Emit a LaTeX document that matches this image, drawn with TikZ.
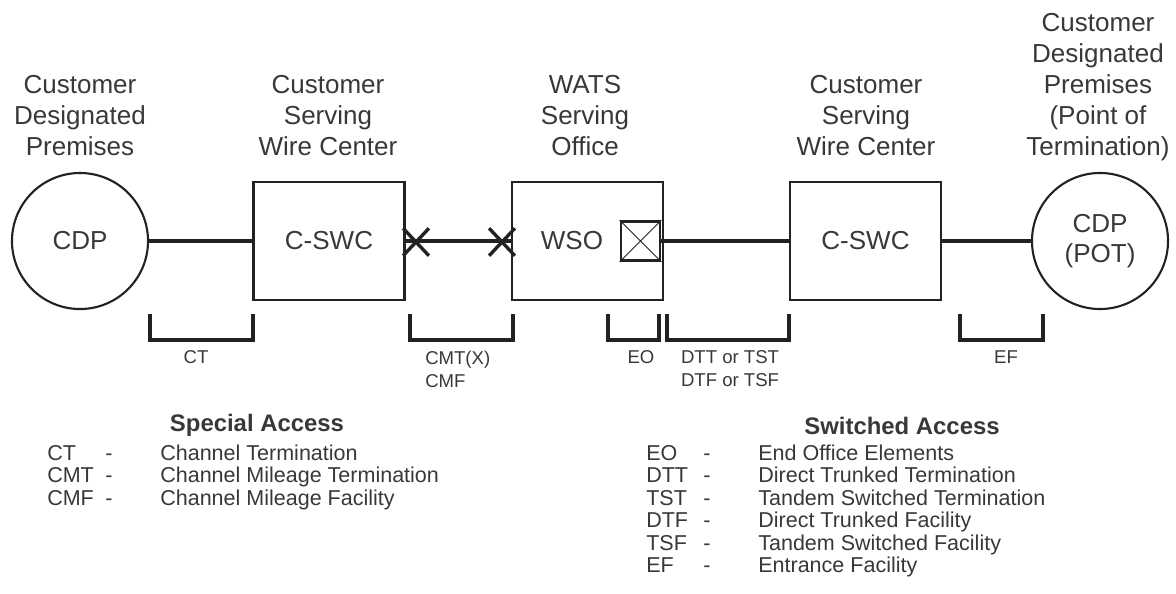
\documentclass[tikz,border=0pt]{standalone}
\usepackage{fontspec}
\setmainfont{Liberation Sans}
\usetikzlibrary{shapes.misc, positioning}

\definecolor{ink}{HTML}{222222}
\definecolor{txt}{HTML}{383838}

\begin{document}
\begin{tikzpicture}[
      x=0.025cm, y=-0.025cm,
      every node/.style={text=txt},
      site/.style={circle, draw=ink, line width=1.5pt, minimum size=3.4cm,
                   inner sep=0pt, align=center, font=\fontsize{18.5}{21.5}\selectfont},
      office/.style={rectangle, draw=ink, line width=2pt, minimum width=3.77cm,
                     minimum height=2.95cm, inner sep=0pt, font=\fontsize{18.5}{22}\selectfont},
      port/.style={rectangle, draw=ink, line width=2pt, minimum size=0.975cm, inner sep=0pt},
      xmark/.style={cross out, draw=ink, line width=2.4pt, minimum width=0.56cm,
                    minimum height=0.6cm, inner sep=0pt},
      hdr/.style={align=center, anchor=north, inner sep=0pt,
                  font=\fontsize{18.5}{22}\selectfont},
      lbl/.style={align=center, inner sep=0pt, font=\fontsize{13.2}{16.4}\selectfont},
      ttl/.style={inner sep=0pt, font=\fontsize{17}{20}\selectfont\bfseries},
      leg/.style={inner sep=0pt, anchor=north west, font=\fontsize{15.3}{16}\selectfont},
      wire/.style={draw=ink, line width=2.2pt},
      brk/.style={draw=ink, line width=2.2pt}
    ]
    \useasboundingbox (0,0) rectangle (1176,593);

    % circuit
    \node[site] (cdpL) at (80,241) {CDP};
    \node[office] (swcL) at (329,241) {C-SWC};
    \node[office] (wso) at (587.5,241) {};
    \node[font=\fontsize{18.5}{22}\selectfont, inner sep=0pt] (wsoname) at (572,241) {WSO};
    \node[port] (eo) at (640.5,241) {};
    \node[office] (swcR) at (865.5,241) {C-SWC};
    \node[site] (cdpR) at (1100,241) {CDP\\(POT)};

    \node[xmark] (xa) at (416,242) {};
    \node[xmark] (xb) at (502,242) {};

    \draw[wire] (cdpL) -- (swcL);
    \draw[wire] (swcL) -- (wso);
    \draw[wire] (eo) -- (swcR);
    \draw[wire] (swcR) -- (cdpR);
    \draw[ink, line width=0.6pt] (eo.north west) -- (eo.south east)
                                 (eo.north east) -- (eo.south west);

    % headings
    \node[hdr] (hcdpL) at (80,75.5) {Customer\\Designated\\Premises};
    \node[hdr] (hswcL) at (328,75.5) {Customer\\Serving\\Wire Center};
    \node[hdr] (hwso) at (585,75.5) {WATS\\Serving\\Office};
    \node[hdr] (hswcR) at (866,75.5) {Customer\\Serving\\Wire Center};
    \node[hdr] (hcdpR) at (1098,13.5) {Customer\\Designated\\Premises\\(Point of\\Termination)};

    % brackets
    \draw[brk] (150,314) -- (150,340) -- (253,340) -- (253,314);
    \draw[brk] (410,314) -- (410,340) -- (513,340) -- (513,314);
    \draw[brk] (608,314) -- (608,340) -- (659,340) -- (659,314);
    \draw[brk] (667,314) -- (667,340) -- (789,340) -- (789,314);
    \draw[brk] (960,314) -- (960,340) -- (1043,340) -- (1043,314);

    \node[lbl] (lct) at (196,357) {CT};
    \node[lbl, align=left, anchor=west] (lcmt) at (425,369) {CMT(X)\\CMF};
    \node[lbl] (leo) at (641,357) {EO};
    \node[lbl] (ldtt) at (730,369) {DTT or TST\\DTF or TSF};
    \node[lbl] (lef) at (1006,357) {EF};

    % legend
    \node[ttl] (tsa) at (257,425) {Special Access};
    \node[leg] (lsa) at (47,444) {%
      \begin{tabular}{@{}p{1.45cm}@{}p{1.375cm}@{}l@{}}
        CT & - & Channel Termination\\
        CMT & - & Channel Mileage Termination\\
        CMF & - & Channel Mileage Facility
      \end{tabular}};

    \node[ttl] (tsw) at (902,426) {Switched Access};
    \node[leg] (lsw) at (646,444) {%
      \begin{tabular}{@{}p{1.425cm}@{}p{1.375cm}@{}l@{}}
        EO & - & End Office Elements\\
        DTT & - & Direct Trunked Termination\\
        TST & - & Tandem Switched Termination\\
        DTF & - & Direct Trunked Facility\\
        TSF & - & Tandem Switched Facility\\
        EF & - & Entrance Facility
      \end{tabular}};

  \end{tikzpicture}
\end{document}
